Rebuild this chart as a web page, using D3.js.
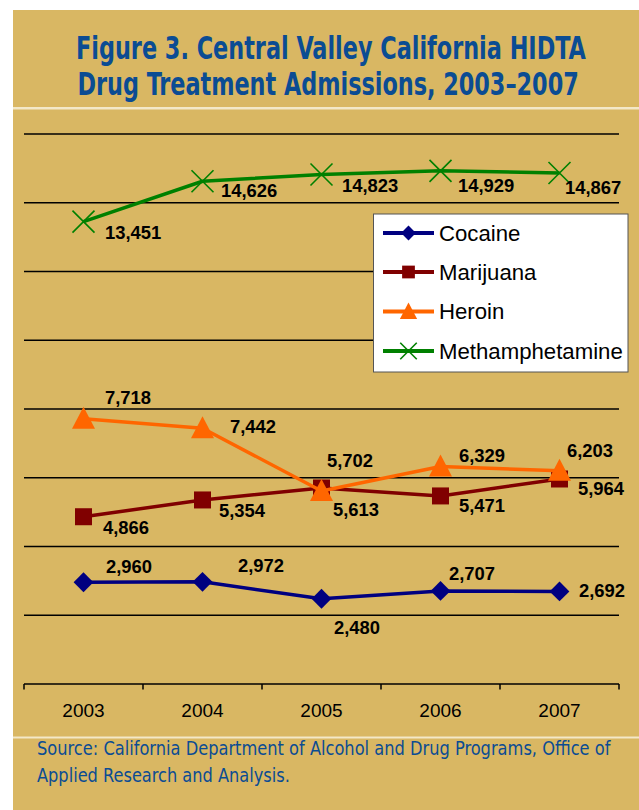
<!DOCTYPE html>
<html>
<head>
<meta charset="utf-8">
<script src="https://cdn.jsdelivr.net/npm/d3@7"></script>
<style>
  html, body { margin: 0; padding: 0; background: #ffffff; }
  svg { display: block; }
</style>
</head>
<body>
<svg id="chart" width="639" height="810"></svg>
<script>
// ---------------- DATA ----------------
const years = ["2003", "2004", "2005", "2006", "2007"];
const cocaine = [2960, 2972, 2480, 2707, 2692];
const marijuana = [4866, 5354, 5702, 5471, 5964];
const heroin = [7718, 7442, 5613, 6329, 6203];
const methamphetamine = [13451, 14626, 14823, 14929, 14867];
const seriesNames = ["Cocaine", "Marijuana", "Heroin", "Methamphetamine"];
const yTicks = [0, 2000, 4000, 6000, 8000, 10000, 12000, 14000, 16000];
const titleLines = ["Figure 3. Central Valley California HIDTA", "Drug Treatment Admissions, 2003\u20132007"];
const sourceLines = ["Source: California Department of Alcohol and Drug Programs, Office of", "Applied Research and Analysis."];

// ---------------- STYLE ----------------
const tan = "#D9B763";
const blue = "#0B4C93";
const colors = { Cocaine: "#000080", Marijuana: "#800000", Heroin: "#FF6600", Methamphetamine: "#008000" };
const symbols = { Cocaine: "diamond", Marijuana: "square", Heroin: "triangle", Methamphetamine: "x" };
const valuesByName = { Cocaine: cocaine, Marijuana: marijuana, Heroin: heroin, Methamphetamine: methamphetamine };

// label offsets (dx to label left edge, dy to baseline) from each point
const labelOffsets = {
  Cocaine: [[22.5, -9], [35.5, -10], [12.5, 35], [8.5, -11], [19.5, 5.5]],
  Marijuana: [[19.5, 17.3], [16.5, 17], [5.5, -21], [18.5, 16], [18.5, 16]],
  Heroin: [[21.5, -14.7], [27.5, 4.8], [11.5, 25], [18.5, -4.4], [7.5, -13.8]],
  Methamphetamine: [[21.5, 17.4], [18.5, 15.8], [20.5, 17.5], [17.5, 21], [5.5, 21]]
};

const svg = d3.select("#chart");

// background panel
svg.append("rect").attr("x", 13).attr("y", 10).attr("width", 626).attr("height", 800).attr("fill", tan);
// separators
svg.append("rect").attr("x", 13).attr("y", 107).attr("width", 626).attr("height", 2.5).attr("fill", "#F3E8C8");
svg.append("rect").attr("x", 13).attr("y", 736.5).attr("width", 626).attr("height", 2).attr("fill", "#F3E8C8");

// fitted text: drawn at a size, then scaled horizontally to the target width
const narrowFont = "'Liberation Sans Narrow', 'DejaVu Sans Condensed', 'Roboto Condensed', Arial, sans-serif";
function fittedText(t, x0, y0, w, size, bold, sy) {
  const el = svg.append("text")
    .attr("x", 0).attr("y", 0)
    .attr("font-family", narrowFont).attr("font-weight", bold ? "bold" : "normal").attr("font-size", size)
    .attr("fill", blue)
    .text(t);
  const len = el.node().getComputedTextLength();
  el.attr("transform", `translate(${x0},${y0}) scale(${w / len},${sy})`);
}

// title
const titleSpecs = [{ x: 76, y: 58.5, w: 510 }, { x: 77.5, y: 95, w: 501.5 }];
titleLines.forEach((t, i) => fittedText(t, titleSpecs[i].x, titleSpecs[i].y, titleSpecs[i].w, 31, true, 1.05));

// source
const sourceSpecs = [{ x: 37, y: 755, w: 573.5 }, { x: 37, y: 781.5, w: 253 }];
sourceLines.forEach((t, i) => fittedText(t, sourceSpecs[i].x, sourceSpecs[i].y, sourceSpecs[i].w, 18.5, false, 1.05));

// scales
const x = d3.scaleBand().domain(years).range([24, 619]).padding(0);
const xc = d => x(d) + x.bandwidth() / 2;
const y = d3.scaleLinear().domain([0, 16000]).range([684, 134]);

// gridlines
const grid = svg.append("g");
grid.selectAll("line").data(yTicks.slice(1)).join("line")
  .attr("x1", 24).attr("x2", 619)
  .attr("y1", d => y(d)).attr("y2", d => y(d))
  .attr("stroke", "#000").attr("stroke-width", 1.5);

// x axis
const xAxis = d3.axisBottom(x).tickSize(0).tickPadding(0);
const gx = svg.append("g").attr("transform", `translate(0,${y(0)})`).call(xAxis);
gx.select(".domain").remove();
gx.selectAll("text").remove();
gx.append("line").attr("x1", 24).attr("x2", 619).attr("y1", 0).attr("y2", 0)
  .attr("stroke", "#000").attr("stroke-width", 1.5);
const boundaries = years.map(d => x(d)).concat([x(years[years.length - 1]) + x.bandwidth()]);
gx.selectAll("line.tk").data(boundaries).join("line").attr("class", "tk")
  .attr("x1", d => d).attr("x2", d => d).attr("y1", 0).attr("y2", 5.5)
  .attr("stroke", "#000").attr("stroke-width", 1.5);
gx.selectAll("text.yr").data(years).join("text").attr("class", "yr")
  .attr("x", d => xc(d)).attr("y", 32.5)
  .attr("text-anchor", "middle")
  .attr("font-family", "'Liberation Sans', Arial, sans-serif").attr("font-size", 19)
  .attr("fill", "#000")
  .text(d => d);

// markers
function drawMarker(g, name, cx, cy, scale) {
  const c = colors[name];
  const s = scale || 1;
  if (symbols[name] === "diamond") {
    g.append("path").attr("d", d3.symbol().type(d3.symbolDiamond2).size(250 * s * s)())
      .attr("transform", `translate(${cx},${cy})`).attr("fill", c);
  } else if (symbols[name] === "square") {
    const h = 8.5 * s;
    g.append("rect").attr("x", cx - h).attr("y", cy - h).attr("width", 2 * h).attr("height", 2 * h)
      .attr("fill", c);
  } else if (symbols[name] === "triangle") {
    const w = 11.5 * s, hTop = 12 * s, hBot = 10 * s;
    g.append("path").attr("d", `M${cx},${cy - hTop}L${cx + w},${cy + hBot}L${cx - w},${cy + hBot}Z`)
      .attr("fill", c);
  } else {
    const h = 11 * s;
    g.append("path").attr("d", `M${cx - h},${cy - h}L${cx + h},${cy + h}M${cx - h},${cy + h}L${cx + h},${cy - h}`)
      .attr("stroke", c).attr("stroke-width", 1.6).attr("fill", "none");
  }
}

const line = d3.line().x((d, i) => xc(years[i])).y(d => y(d));

const drawOrder = ["Methamphetamine", "Marijuana", "Heroin", "Cocaine"];
drawOrder.forEach(name => {
  const vals = valuesByName[name];
  const g = svg.append("g");
  g.append("path").datum(vals).attr("d", line)
    .attr("fill", "none").attr("stroke", colors[name]).attr("stroke-width", 3.5)
    .attr("stroke-linejoin", "round");
  vals.forEach((v, i) => drawMarker(g, name, xc(years[i]), y(v)));
});

// data labels
drawOrder.forEach(name => {
  const vals = valuesByName[name];
  svg.append("g").selectAll("text").data(vals).join("text")
    .attr("x", (d, i) => xc(years[i]) + labelOffsets[name][i][0])
    .attr("y", (d, i) => y(d) + labelOffsets[name][i][1])
    .attr("font-family", "'Liberation Sans', Arial, sans-serif")
    .attr("font-weight", "bold").attr("font-size", 18.4).attr("fill", "#000")
    .text(d => d3.format(",")(d));
});

// legend
const lg = svg.append("g");
lg.append("rect").attr("x", 373.5).attr("y", 214).attr("width", 254.5).attr("height", 158)
  .attr("fill", "#fff").attr("stroke", "#555").attr("stroke-width", 1);
const rowY = [233, 272, 311.5, 351];
seriesNames.forEach((name, i) => {
  const ry = rowY[i];
  lg.append("line").attr("x1", 383).attr("x2", 434).attr("y1", ry).attr("y2", ry)
    .attr("stroke", colors[name]).attr("stroke-width", 4);
  drawMarker(lg, name, 408.5, ry, 0.75);
  lg.append("text").attr("x", 439).attr("y", ry + 7.8)
    .attr("font-family", "'Liberation Sans', Arial, sans-serif").attr("font-size", 22.2)
    .attr("fill", "#000").text(name);
});
</script>
</body>
</html>
